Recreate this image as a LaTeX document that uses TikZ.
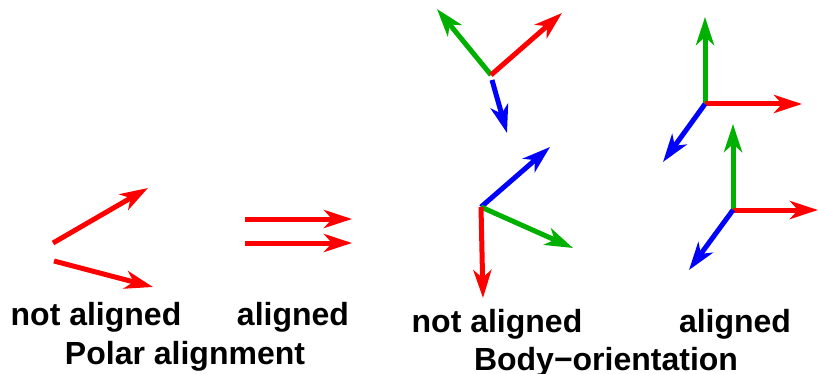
\documentclass[tikz,border=0pt]{standalone}
\usepackage{fontspec}
\setmainfont{Liberation Sans}
\usetikzlibrary{arrows.meta}
\definecolor{vgreen}{rgb}{0,0.69,0}
\tikzset{
  vec/.style={line width=5pt, -{Stealth[length=28pt,width=18pt,inset=8pt]}},
  lbl/.style={anchor=base, font=\fontsize{32}{38}\selectfont\bfseries, inner sep=0pt}
}
\begin{document}
\begin{tikzpicture}[x=1pt,y=-1pt]
    \useasboundingbox (0,0) rectangle (818,374);
    % polar alignment
    \draw [vec,red] (53,243) -- (148,188);
    \draw [vec,red] (54,261) -- (153,287);
    \draw [vec,red] (245,219) -- (352,219);
    \draw [vec,red] (245,243) -- (352,243);
    % body orientation, not aligned
    \coordinate (oA) at (491,75);
    \draw [vec,vgreen] (oA) -- (437,9);
    \draw [vec,red] (oA) -- (562,13);
    \draw [vec,blue] (492,80) -- (507,133);
    \coordinate (oB) at (481,207);
    \draw [vec,blue] (oB) -- (550,147);
    \draw [vec,vgreen] (oB) -- (573,248);
    \draw [vec,red] (oB) -- (483,298);
    % body orientation, aligned
    \coordinate (oC) at (705,104);
    \draw [vec,vgreen] (oC) -- (705,17);
    \draw [vec,red] (oC) -- (802,104);
    \draw [vec,blue] (oC) -- (663,162);
    \coordinate (oD) at (733,210);
    \draw [vec,vgreen] (oD) -- (733,124);
    \draw [vec,red] (oD) -- (818,210);
    \draw [vec,blue] (oD) -- (689,270);
    % labels
    \node [lbl] (pna) at (96,325) {not aligned};
    \node [lbl] (pal) at (293,325) {aligned};
    \node [lbl] (ptl) at (185,364) {Polar alignment};
    \node [lbl] (bna) at (497,332) {not aligned};
    \node [lbl] (bal) at (735,332) {aligned};
    \node [lbl] (btl) at (606,370) {Body−orientation};
\end{tikzpicture}
\end{document}
